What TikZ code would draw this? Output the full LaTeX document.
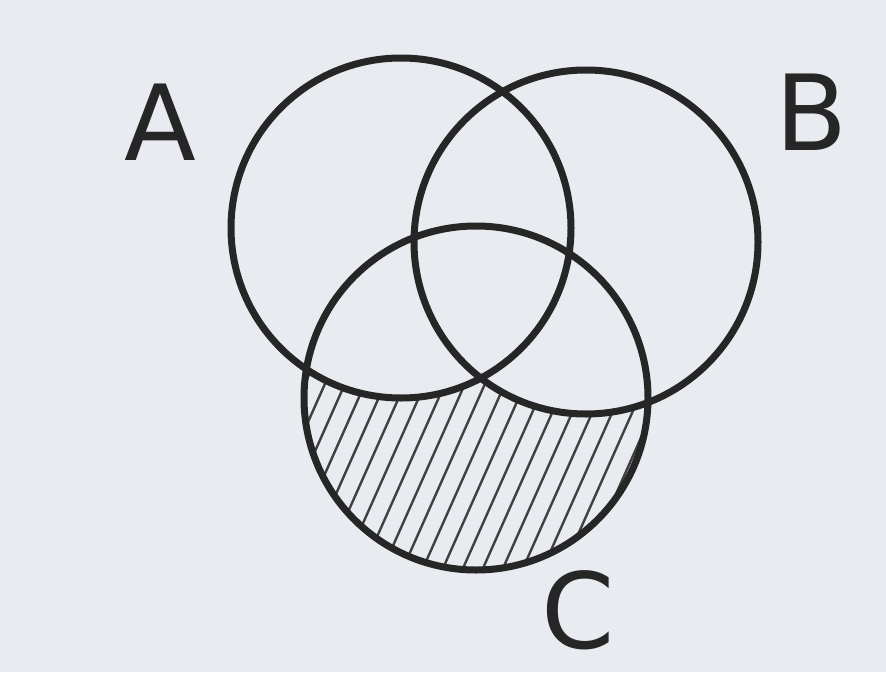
\documentclass[tikz,border=0pt]{standalone}
\usepackage{fontspec}
\setmainfont{DejaVu Sans}
\begin{document}
\begin{tikzpicture}[x=1pt,y=-1pt,
  ring/.style={draw=black!85, line width=7pt},
  hatchline/.style={draw=black!75, line width=2.4pt},
  lbl/.style={font=\fontsize{105}{105}\selectfont, text=black!85, inner sep=0pt}]
\definecolor{paper}{RGB}{232,236,240}
\fill[paper] (0,0) rectangle (886,672);
\useasboundingbox (0,0) rectangle (886,672);
% hatched region: C minus (A union B)
\begin{scope}
  \clip (476,398) circle (172);
  \foreach \k in {-15,...,35} {
    \draw[hatchline] (\k*20-80,710) -- (\k*20+120,260);
  }
  \fill[paper] (401,228) circle (170);
  \fill[paper] (586,242) circle (172);
\end{scope}
\node[ring, circle, minimum size=340pt, inner sep=0pt] (A) at (401,228) {};
\node[ring, circle, minimum size=344pt, inner sep=0pt] (B) at (586,242) {};
\node[ring, circle, minimum size=344pt, inner sep=0pt] (C) at (476,398) {};
\node[lbl] (la) at (160,122) {A};
\node[lbl] (lb) at (812,112) {B};
\node[lbl] (lc) at (578,610) {C};
\end{tikzpicture}
\end{document}
